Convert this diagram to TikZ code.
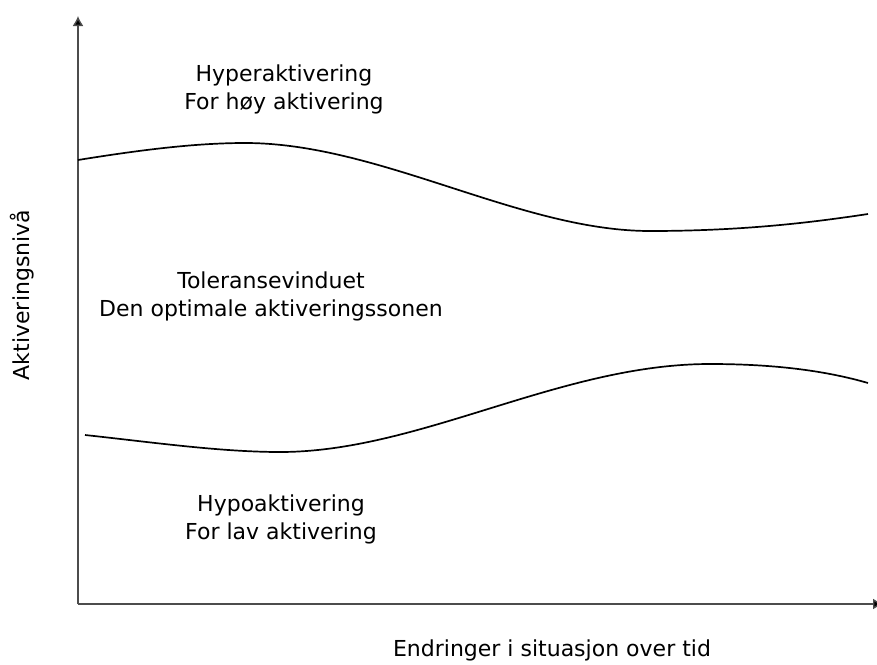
\documentclass[tikz,border=0pt]{standalone}
\usepackage{fontspec}
\setmainfont{DejaVu Sans}
\usetikzlibrary{arrows.meta}

\begin{document}
\begin{tikzpicture}[x=1pt,y=-1pt,thick]
\useasboundingbox (0,0) rectangle (877,664);
\clip (0,0) rectangle (877,664);
\tikzset{axis/.style={draw=black!70,line width=1.4pt,-{Latex[length=10pt,width=11pt,fill=black]}},
         kurve/.style={line width=1.7pt},
         tekst/.style={font=\fontsize{22}{28}\selectfont,align=center}}
\coordinate (null) at (78,604);
\coordinate (ytopp) at (78,16);
\coordinate (xende) at (883,604);

\draw[axis] (null) -- (ytopp);
\draw[axis] (null) -- (xende);

% oevre grense
\draw[kurve] (78,160) .. controls (140,150) and (195,143) .. (245,143)
  .. controls (380,143) and (520,231) .. (650,231)
  .. controls (745,231) and (815,222) .. (868,214);
% nedre grense
\draw[kurve] (85,435) .. controls (150,442) and (220,452) .. (280,452)
  .. controls (420,452) and (560,364) .. (710,364)
  .. controls (780,364) and (830,372) .. (868,383);

\node[tekst] (hyper) at (284,89) {Hyperaktivering\\For høy aktivering};
\node[tekst] (vindu) at (271,296) {Toleransevinduet\\Den optimale aktiveringssonen};
\node[tekst] (hypo) at (281,519) {Hypoaktivering\\For lav aktivering};
\node[tekst,rotate=90] (ylabel) at (22,295) {Aktiveringsnivå};
\node[tekst] (xlabel) at (552,650) {Endringer i situasjon over tid};
\end{tikzpicture}
\end{document}
